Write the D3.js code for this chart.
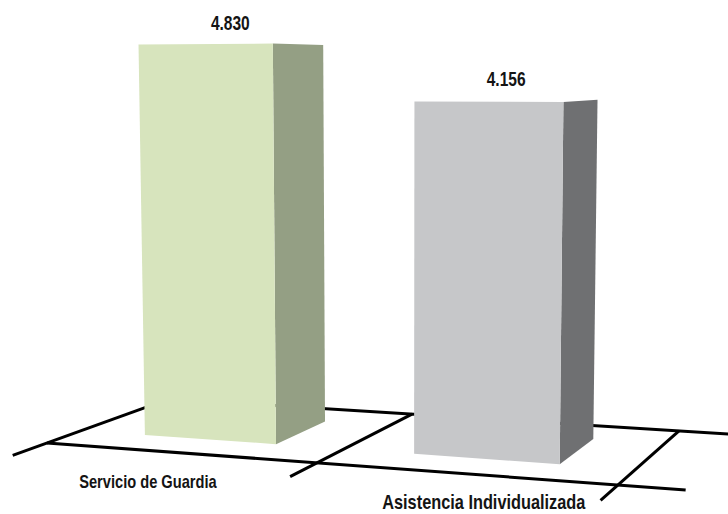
<!DOCTYPE html>
<html>
<head>
<meta charset="utf-8">
<script src="https://cdn.jsdelivr.net/npm/d3@7"></script>
<style>
  html, body { margin: 0; padding: 0; background: #ffffff; }
  svg { display: block; }
</style>
</head>
<body>
<svg id="chart" width="728" height="514"></svg>
<script>
// ---------------- data ----------------
const categories = ["Servicio de Guardia", "Asistencia Individualizada"];
const values = [4830, 4156];
const valueLabels = ["4.830", "4.156"];

// ---------------- styles ----------------
const frontColors = ["#D7E4BD", "#C6C7C9"];
const sideColors  = ["#949F84", "#6F7072"];
const lineColor = "#000000";
const textColor = "#141414";
const fontFamily = "'Liberation Sans Narrow','Arial Narrow','Liberation Sans',Arial,sans-serif";
const valueCondense = 0.74;
const labelCondense = 0.79;
const labelFontPerUnit = 0.0685;   // category font size per projected px of one category step

// ---------------- world scales ----------------
// X: category axis (world units), Z: depth (0 front .. 1 back), Y: height
const xScale = d3.scaleBand().domain(categories).range([0, 2])
  .paddingInner(0.5).paddingOuter(0.25);
const yScale = d3.scaleLinear().domain([0, 5000]).range([0, 414]);
const depth = { front: 0, back: 1, tick: -0.24, barFront: 0.26, barBack: 0.74, label: 0.48 };
const floorExtent = 2.21;

// ---------------- perspective camera ----------------
const cam = { a: 507.35, b: 144.69, c: 47, d: -7.95, e: 8.66, f: 443,
              g: -0.103, h: 0.1325, vx: -0.025, vw: -1 / 16000 };
const xSpan = xScale.range()[1] - xScale.range()[0];
function project(X, Z, Y = 0) {
  const s = (X - xScale.range()[0]) / xSpan, t = Z;
  const w = 1 + cam.g * s + cam.h * t + cam.vw * Y;
  return [(cam.a * s + cam.b * t + cam.c + cam.vx * Y) / w,
          (cam.d * s + cam.e * t + cam.f - Y) / w];
}

const svg = d3.select("#chart");
const line = d3.line();

// ---------------- floor ----------------
const gFloor = svg.append("g")
  .attr("fill", "none").attr("stroke", lineColor).attr("stroke-width", 3);

const step = xScale.step();
const halfGap = step * xScale.paddingInner() / 2;
const boundaries = categories.map(c => xScale(c) - halfGap);
boundaries.push(xScale(categories[categories.length - 1]) + xScale.bandwidth() + halfGap);

[depth.front, depth.back].forEach(z => {
  gFloor.append("path")
    .attr("d", line([project(boundaries[0], z), project(floorExtent, z)]));
});
boundaries.forEach(bx => {
  gFloor.append("path")
    .attr("d", line([project(bx, depth.tick), project(bx, depth.back)]));
});

// ---------------- bars ----------------
const gBars = svg.append("g");
categories.forEach((cat, i) => {
  const x0 = xScale(cat), x1 = x0 + xScale.bandwidth();
  const z0 = depth.barFront, z1 = depth.barBack;
  const Y = yScale(values[i]);
  const side = [project(x1, z0, 0), project(x1, z1, 0), project(x1, z1, Y), project(x1, z0, Y)];
  const front = [project(x0, z0, 0), project(x1, z0, 0), project(x1, z0, Y), project(x0, z0, Y)];
  gBars.append("path").attr("d", line(side) + "Z").attr("fill", sideColors[i]);
  gBars.append("path").attr("d", line(front) + "Z").attr("fill", frontColors[i]);
});

function condense(factor) {
  return sel => sel.each(function () {
    d3.select(this)
      .attr("textLength", this.getComputedTextLength() * factor)
      .attr("lengthAdjust", "spacingAndGlyphs");
  });
}

// ---------------- value labels ----------------
categories.forEach((cat, i) => {
  const xc = xScale(cat) + xScale.bandwidth() / 2;
  const p = project(xc, depth.label, yScale(values[i]));
  svg.append("text")
    .attr("x", p[0]).attr("y", p[1] - 15)
    .attr("text-anchor", "middle")
    .attr("font-family", fontFamily).attr("font-weight", "bold")
    .attr("font-size", 21).attr("fill", textColor)
    .text(valueLabels[i])
    .call(condense(valueCondense));
});

// ---------------- category labels ----------------
const labelSpread = 25.5, labelShift = -5, labelDrop = 35.5;
categories.forEach((cat, i) => {
  const xc = xScale(cat) + xScale.bandwidth() / 2;
  const p = project(xc, depth.front);
  const pl = project(xc - step / 2, depth.front), pr = project(xc + step / 2, depth.front);
  const localStep = Math.hypot(pr[0] - pl[0], pr[1] - pl[1]);
  svg.append("text")
    .attr("x", p[0] + labelSpread * (2 * i - 1) + labelShift)
    .attr("y", p[1] + labelDrop)
    .attr("text-anchor", "middle")
    .attr("font-family", fontFamily).attr("font-weight", "bold")
    .attr("font-size", (localStep * labelFontPerUnit).toFixed(2)).attr("fill", textColor)
    .text(cat)
    .call(condense(labelCondense));
});
</script>
</body>
</html>
